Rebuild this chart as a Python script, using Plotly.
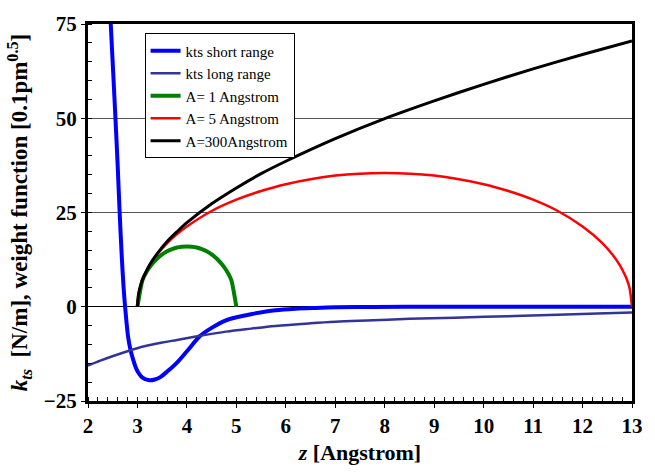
import plotly.graph_objects as go

# ---- data ----
z_short = [2.44, 2.46, 2.51, 2.555, 2.60, 2.64, 2.68, 2.72, 2.76, 2.81, 2.86, 2.91, 2.96, 3.01,
           3.10, 3.24, 3.35, 3.47, 3.60, 3.80, 4.00, 4.27, 4.50, 4.79, 5.00, 5.32, 5.79,
           6.2, 6.6, 7.0, 7.77, 9.0, 10.0, 11.0, 12.0, 13.0]
k_short = [82, 75, 62, 50, 37.5, 25, 14, 5, -1.5, -7.9, -11.5, -13.9, -15.9, -17.3,
           -18.8, -19.5, -19.3, -18.6, -17.2, -14.8, -11.8, -7.7, -5.6, -3.6, -2.8, -1.9, -0.9,
           -0.5, -0.3, -0.15, -0.05, 0, 0, 0, 0, 0]

z_long = [2.0, 2.25, 2.48, 2.8, 3.14, 3.5, 3.8, 4.27, 4.79, 5.3, 5.79, 6.5, 7.0, 7.77,
          8.5, 9.41, 10.5, 11.5, 12.3, 13.0]
k_long = [-15.6, -14.3, -13.2, -11.8, -10.5, -9.5, -8.8, -7.7, -6.6, -5.8, -5.1, -4.4, -4.0, -3.6,
          -3.2, -2.9, -2.5, -2.1, -1.8, -1.55]

z_a1 = [3.0, 3.1, 3.2, 3.3, 3.4, 3.5, 3.6, 3.7, 3.8, 3.9, 4.0,
        4.1, 4.2, 4.3, 4.4, 4.5, 4.6, 4.7, 4.8, 4.9, 5.0]
w_a1 = [0, 7.0, 9.6, 11.4, 12.8, 13.9, 14.7, 15.3, 15.7, 15.9, 16.0,
        15.9, 15.7, 15.3, 14.7, 13.9, 12.8, 11.4, 9.6, 7.0, 0]

z_a5 = [3.0, 3.02, 3.05, 3.1, 3.15, 3.25, 3.4, 3.6, 3.8, 4.0, 4.5, 5.0, 5.5, 6.0, 7.0, 8.0,
        9.0, 10.0, 10.5, 11.0, 11.5, 12.0, 12.4, 12.6, 12.75, 12.85, 12.9, 12.95, 13.0]
w_a5 = [0, 3.2, 5.0, 7.1, 8.6, 11.1, 13.9, 16.9, 19.3, 21.3, 25.4, 28.4, 30.7, 32.5, 34.8, 35.5,
        34.8, 32.5, 30.7, 28.4, 25.4, 21.3, 16.9, 13.9, 11.1, 8.6, 7.1, 5.0, 0]

z_a300 = [3.0, 3.02, 3.05, 3.1, 3.15, 3.25, 3.4, 3.6, 3.8, 4.0, 4.5, 5.0, 5.5, 6.0, 7.0, 8.0,
          9.0, 10.0, 11.0, 12.0, 13.0]
w_a300 = [0, 3.2, 5.0, 7.1, 8.6, 11.2, 14.1, 17.3, 19.9, 22.3, 27.3, 31.5, 35.3, 38.6, 44.6, 49.9,
          54.6, 59.0, 63.1, 66.9, 70.5]

x_ticks = [2, 3, 4, 5, 6, 7, 8, 9, 10, 11, 12, 13]
y_ticks = [-25, 0, 25, 50, 75]

FONT = "Liberation Serif, Times New Roman, serif"

fig = go.Figure()
fig.add_trace(go.Scatter(x=z_short, y=k_short, mode="lines", name="kts short range",
                         line=dict(color="#0000FF", width=4, shape="spline", smoothing=0.8)))
fig.add_trace(go.Scatter(x=z_long, y=k_long, mode="lines", name="kts long range",
                         line=dict(color="#333399", width=2.5, shape="spline", smoothing=1.0)))
fig.add_trace(go.Scatter(x=z_a1, y=w_a1, mode="lines", name="A= 1 Angstrom",
                         line=dict(color="#008000", width=4, shape="spline", smoothing=0.5)))
fig.add_trace(go.Scatter(x=z_a5, y=w_a5, mode="lines", name="A= 5 Angstrom",
                         line=dict(color="#FF0000", width=2.5, shape="spline", smoothing=0.8)))
fig.add_trace(go.Scatter(x=z_a300, y=w_a300, mode="lines", name="A=300Angstrom",
                         line=dict(color="#000000", width=3, shape="spline", smoothing=0.8)))

fig.update_layout(
    width=655, height=474,
    margin=dict(l=88, r=12, t=15, b=71),
    paper_bgcolor="white", plot_bgcolor="white",
    font=dict(family=FONT, color="black"),
    showlegend=True,
    legend=dict(x=0.104, y=0.975, xanchor="left", yanchor="top",
                bgcolor="white", bordercolor="black", borderwidth=1,
                font=dict(family=FONT, size=15, color="black"),
                tracegroupgap=0, itemwidth=30),
    xaxis=dict(range=[2, 13], tickvals=x_ticks, showgrid=False, zeroline=False,
               showline=True, linecolor="black", linewidth=3, mirror=True,
               ticks="outside", ticklen=4, tickwidth=1, tickcolor="black",
               minor=dict(dtick=0.2, ticks="inside", ticklen=4, tickcolor="black", tickwidth=1),
               tickfont=dict(family=FONT, size=21, color="black", weight="bold"),
               title=dict(text="<b><i>z</i> [Angstrom]</b>", standoff=8,
                          font=dict(family=FONT, size=22, color="black"))),
    yaxis=dict(range=[-25, 75], tickvals=y_ticks, showgrid=True, gridcolor="#555555",
               gridwidth=1, zeroline=True, zerolinecolor="black", zerolinewidth=1,
               showline=True, linecolor="black", linewidth=3, mirror=True,
               ticks="outside", ticklen=4, tickwidth=1, tickcolor="black",
               minor=dict(dtick=5, ticks="inside", ticklen=4, tickcolor="black", tickwidth=1,
                          showgrid=False),
               tickfont=dict(family=FONT, size=21, color="black", weight="bold"),
               title=dict(text="<b><i>k<sub>ts</sub></i>  [N/m], weight function [0.1pm<sup>0.5</sup>]</b>",
                          standoff=10,
                          font=dict(family=FONT, size=23, color="black"))),
)

fig.write_html("out.html")
